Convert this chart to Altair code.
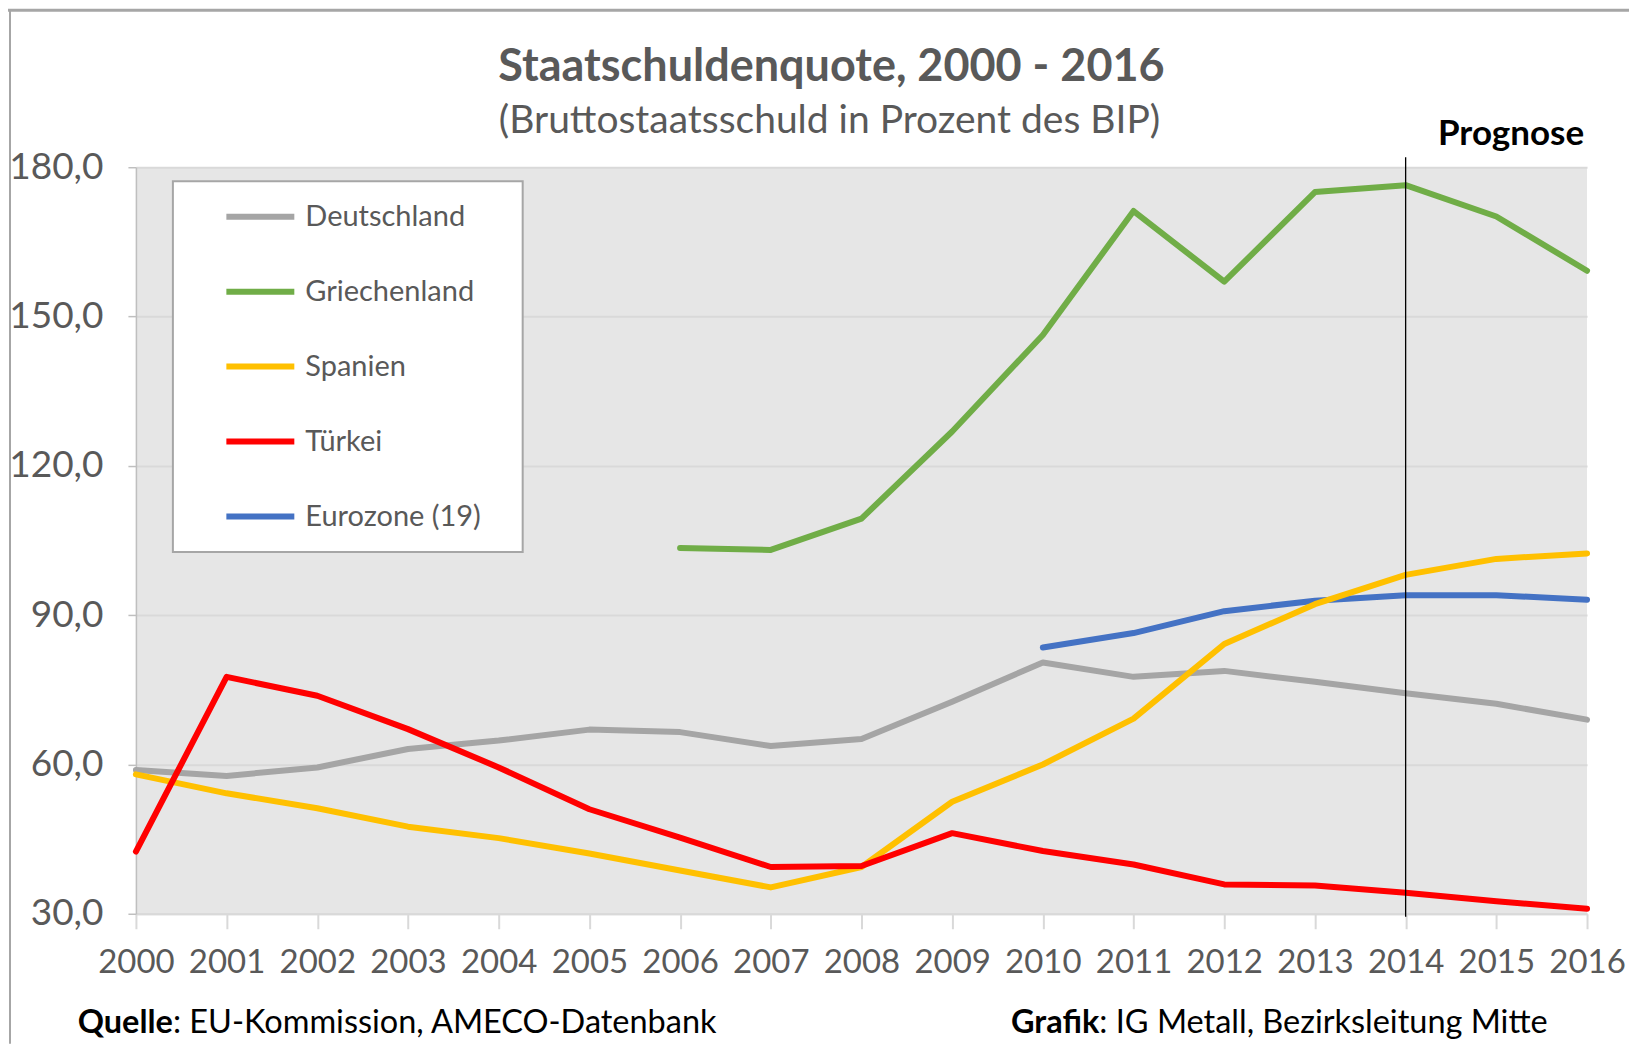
import altair as alt
import pandas as pd

years = list(range(2000, 2017))
names = ["Deutschland", "Griechenland", "Spanien", "Türkei", "Eurozone (19)"]
colors = ["#a5a5a5", "#70ad47", "#ffc000", "#ff0000", "#4472c4"]

deutschland = [58.9, 57.7, 59.4, 63.1, 64.8, 67.0, 66.5, 63.7, 65.1, 72.6, 80.5, 77.6, 78.8, 76.6, 74.3, 72.2, 69.0]
griechenland_years = list(range(2006, 2017))
griechenland = [103.5, 103.1, 109.4, 126.9, 146.3, 171.2, 157.0, 175.0, 176.4, 170.1, 159.2]
spanien = [58.0, 54.2, 51.2, 47.5, 45.2, 42.1, 38.7, 35.3, 39.4, 52.5, 60.0, 69.2, 84.2, 92.2, 98.1, 101.3, 102.4]
tuerkei = [42.5, 77.6, 73.8, 67.1, 59.4, 51.0, 45.3, 39.4, 39.6, 46.2, 42.6, 39.9, 35.9, 35.7, 34.2, 32.5, 31.0]
eurozone_years = list(range(2010, 2017))
eurozone = [83.5, 86.4, 90.8, 92.9, 94.0, 94.0, 93.1]

y_ticks = [30, 60, 90, 120, 150, 180]
prognose_year = 2014

rows = []
for y, v in zip(years, deutschland):
    rows.append({"Land": "Deutschland", "Jahr": y, "Wert": v})
for y, v in zip(griechenland_years, griechenland):
    rows.append({"Land": "Griechenland", "Jahr": y, "Wert": v})
for y, v in zip(eurozone_years, eurozone):
    rows.append({"Land": "Eurozone (19)", "Jahr": y, "Wert": v})
for y, v in zip(years, spanien):
    rows.append({"Land": "Spanien", "Jahr": y, "Wert": v})
for y, v in zip(years, tuerkei):
    rows.append({"Land": "Türkei", "Jahr": y, "Wert": v})
df = pd.DataFrame(rows)

W, H = 1452, 747
FONT = "Lato"
GRAY_TXT = "#595959"

lines = alt.Chart(df).mark_line(strokeWidth=6, strokeJoin="round", strokeCap="round").encode(
    x=alt.X("Jahr:Q",
            scale=alt.Scale(domain=[2000, 2016], nice=False, zero=False),
            axis=alt.Axis(values=years, format="d", title=None, grid=False,
                          tickColor="#d9d9d9", tickSize=15, tickWidth=2,
                          domainColor="#d9d9d9", domainWidth=2,
                          labelFontSize=33, labelColor=GRAY_TXT, labelFont=FONT,
                          labelPadding=18, labelFlush=False, labelOverlap=False)),
    y=alt.Y("Wert:Q",
            scale=alt.Scale(domain=[30, 180], nice=False, zero=False),
            axis=alt.Axis(values=y_ticks, title=None,
                          labelExpr="replace(format(datum.value, '.1f'), '.', ',')",
                          gridColor="#d9d9d9", gridWidth=2,
                          tickColor="#bfbfbf", tickSize=8, tickWidth=1.5,
                          domainColor="#bfbfbf", domainWidth=1.5,
                          labelFontSize=37, labelColor=GRAY_TXT, labelFont=FONT,
                          labelPadding=25)),
    color=alt.Color("Land:N",
                    scale=alt.Scale(domain=names, range=colors),
                    sort=names,
                    legend=alt.Legend(orient="none", legendX=87.5, legendY=12.5, title=None,
                                      symbolType="stroke", symbolSize=4624, symbolStrokeWidth=6,
                                      labelFontSize=29, labelColor=GRAY_TXT, labelFont=FONT,
                                      labelLimit=400, labelOffset=8, rowPadding=23, padding=0)),
)

legend_box = alt.Chart(pd.DataFrame({"a": [0]})).mark_rect(
    fill="white", stroke="#a6a6a6", strokeWidth=2
).encode(x=alt.value(37), x2=alt.value(387), y=alt.value(14), y2=alt.value(385))

rule = alt.Chart(pd.DataFrame({"Jahr": [prognose_year]})).mark_rule(
    color="black", strokeWidth=1.3
).encode(x="Jahr:Q", y=alt.value(-10), y2=alt.value(H + 3))

def text_layer(txt, x, y, size, weight="normal", align="center", color=GRAY_TXT):
    return alt.Chart(pd.DataFrame({"t": [txt]})).mark_text(
        font=FONT, fontSize=size, fontWeight=weight, align=align,
        baseline="alphabetic", color=color
    ).encode(text="t:N", x=alt.value(x), y=alt.value(y))

title = text_layer("Staatschuldenquote, 2000 - 2016", 696, -86, 45, "bold")
subtitle = text_layer("(Bruttostaatsschuld in Prozent des BIP)", 694, -34, 39)
prognose = text_layer("Prognose", 1376, -22, 35, "bold", color="black")
q1 = text_layer("Quelle", 37, 866, 32.5, "bold", align="right", color="black")
q2 = text_layer(": EU-Kommission, AMECO-Datenbank", 37, 866, 32.5, align="left", color="black")
g1 = text_layer("Grafik", 964, 866, 32.5, "bold", align="right", color="black")
g2 = text_layer(": IG Metall, Bezirksleitung Mitte", 964, 866, 32.5, align="left", color="black")

frame_top = alt.Chart(pd.DataFrame({"a": [0]})).mark_rule(color="#a6a6a6", strokeWidth=3).encode(
    x=alt.value(-128), x2=alt.value(W + 42), y=alt.value(-157))
frame_left = alt.Chart(pd.DataFrame({"a": [0]})).mark_rule(color="#a6a6a6", strokeWidth=2).encode(
    x=alt.value(-126), y=alt.value(-158), y2=alt.value(H + 130))

chart = alt.layer(
    legend_box, lines, rule, title, subtitle, prognose, q1, q2, g1, g2, frame_top, frame_left
).properties(
    width=W, height=H,
    padding={"left": 128, "top": 159, "right": 42, "bottom": 130},
    autosize=alt.AutoSizeParams(type="none"),
    background="white",
).configure_view(strokeWidth=0, fill="#e6e6e6")

chart.save("out.html", embed_options={"renderer": "svg", "actions": False})
